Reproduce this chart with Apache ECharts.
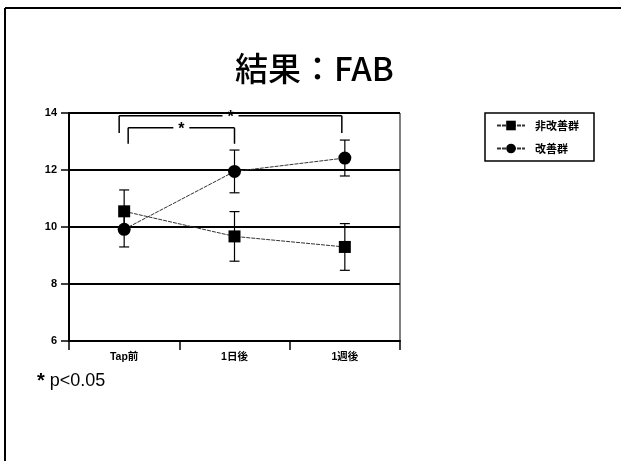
<!DOCTYPE html>
<html><head><meta charset="utf-8">
<script src="https://cdn.jsdelivr.net/npm/echarts@6/dist/echarts.min.js"></script>
<style>html,body{margin:0;padding:0;background:#fff}#c{width:621px;height:461px}</style>
</head><body><div id="c"></div>
<script>
const categories = ['Tap前', '1日後', '1週後'];
const seriesNames = ['非改善群', '改善群'];
const nonImpMean = [10.55, 9.67, 9.3];
const nonImpErr = [0.75, 0.87, 0.82];
const impMean = [9.92, 11.95, 12.42];
const impErr = [0.62, 0.75, 0.63];
const yTicks = [6, 8, 10, 12, 14];
// significance brackets: category from/to, top value, foot value
const bracketFrom = [0, 0];
const bracketTo = [2, 1];
const bracketTop = [13.9, 13.48];
const bracketFoot = [13.3, 12.92];
const bracketOffL = [-5, 4];
const bracketOffR = [-3, 0];

const chart = echarts.init(document.getElementById('c'), null, {renderer: 'canvas'});
const font = "'Liberation Sans', Arial, 'Noto Sans CJK JP', sans-serif";

function errData(mean, err) { return mean.map((m, i) => [i, m - err[i], m + err[i]]); }

function errRender(params, api) {
  const x = api.value(0);
  const lo = api.coord([x, api.value(1)]);
  const hi = api.coord([x, api.value(2)]);
  const w = 5;
  const st = {stroke: '#000', lineWidth: 1.2};
  return {type: 'group', children: [
    {type: 'line', shape: {x1: lo[0], y1: lo[1], x2: hi[0], y2: hi[1]}, style: st},
    {type: 'line', shape: {x1: lo[0] - w, y1: lo[1], x2: lo[0] + w, y2: lo[1]}, style: st},
    {type: 'line', shape: {x1: hi[0] - w, y1: hi[1], x2: hi[0] + w, y2: hi[1]}, style: st}
  ]};
}

const bracketData = bracketFrom.map((f, i) => [f, bracketTo[i], bracketTop[i], bracketFoot[i], i]);
function bracketRender(params, api) {
  const k = api.value(4);
  const a = api.coord([api.value(0), api.value(2)]);
  const b = api.coord([api.value(1), api.value(2)]);
  const fa = api.coord([api.value(0), api.value(3)]);
  const xl = a[0] + bracketOffL[k], xr = b[0] + bracketOffR[k];
  const y = a[1], yf = fa[1];
  const mid = (xl + xr) / 2;
  const st = {stroke: '#000', lineWidth: 1.5};
  return {type: 'group', children: [
    {type: 'line', shape: {x1: xl, y1: yf, x2: xl, y2: y}, style: st},
    {type: 'line', shape: {x1: xl, y1: y, x2: mid - 8, y2: y}, style: st},
    {type: 'line', shape: {x1: mid + 8, y1: y, x2: xr, y2: y}, style: st},
    {type: 'line', shape: {x1: xr, y1: y, x2: xr, y2: yf}, style: st},
    {type: 'text', x: mid, y: y + 2, style: {text: '*', fill: '#000', font: 'bold 16px ' + font, textAlign: 'center', textVerticalAlign: 'middle'}}
  ]};
}

chart.setOption({
  animation: false,
  backgroundColor: '#fff',
  title: {text: '結果：FAB', left: 230, top: 47, textStyle: {fontFamily: "'Noto Sans CJK JP', sans-serif", fontSize: 33, fontWeight: 500, color: '#000'}},
  legend: {
    orient: 'vertical', left: 485, top: 113, data: seriesNames,
    borderColor: '#000', borderWidth: 1.5, padding: [7, 15, 7, 11], itemGap: 12,
    itemWidth: 28, itemHeight: 12,
    textStyle: {fontFamily: "'Noto Sans CJK JP', sans-serif", fontSize: 11, fontWeight: 'bold', color: '#000', padding: [0, 0, 0, 5]}
  },
  grid: {left: 69, right: 221, top: 113, bottom: 120, show: true, borderColor: '#000', borderWidth: 1},
  xAxis: {
    type: 'category', data: categories, boundaryGap: true,
    axisLine: {lineStyle: {color: '#000', width: 2}},
    axisTick: {show: true, length: 9, lineStyle: {color: '#000', width: 1.5}},
    axisLabel: {color: '#000', fontSize: 10.5, fontWeight: 'bold', fontFamily: font, margin: 11}
  },
  yAxis: {
    type: 'value', min: yTicks[0], max: yTicks[yTicks.length - 1], interval: 2,
    axisLine: {show: true, lineStyle: {color: '#000', width: 2}},
    axisTick: {show: true, length: 8, lineStyle: {color: '#000', width: 1.5}},
    axisLabel: {color: '#000', fontSize: 11, fontWeight: 'bold', fontFamily: font, margin: 12},
    splitLine: {show: true, lineStyle: {color: '#000', width: 1.8}}
  },
  graphic: [
    {type: 'line', shape: {x1: 5, y1: 8, x2: 621, y2: 8}, style: {stroke: '#000', lineWidth: 2}},
    {type: 'line', shape: {x1: 5, y1: 8, x2: 5, y2: 461}, style: {stroke: '#000', lineWidth: 2}},
    {type: 'text', left: 37, top: 371, style: {
      text: '{s|*} p<0.05', fill: '#000', font: '18px ' + font,
      rich: {s: {fontSize: 20, fontWeight: 'bold', fontFamily: font, fill: '#000'}}
    }}
  ],
  series: [
    {name: seriesNames[0], type: 'line', data: nonImpMean, symbol: 'rect', symbolSize: 12,
      itemStyle: {color: '#000'}, lineStyle: {color: '#333', width: 1, type: [4, 1]}, z: 3},
    {name: seriesNames[1], type: 'line', data: impMean, symbol: 'circle', symbolSize: 13,
      itemStyle: {color: '#000'}, lineStyle: {color: '#333', width: 1, type: [4, 1]}, z: 3},
    {type: 'custom', renderItem: errRender, data: errData(nonImpMean, nonImpErr), z: 4, silent: true},
    {type: 'custom', renderItem: errRender, data: errData(impMean, impErr), z: 4, silent: true},
    {type: 'custom', renderItem: bracketRender, data: bracketData, z: 5, silent: true, clip: false}
  ]
});
</script></body></html>
